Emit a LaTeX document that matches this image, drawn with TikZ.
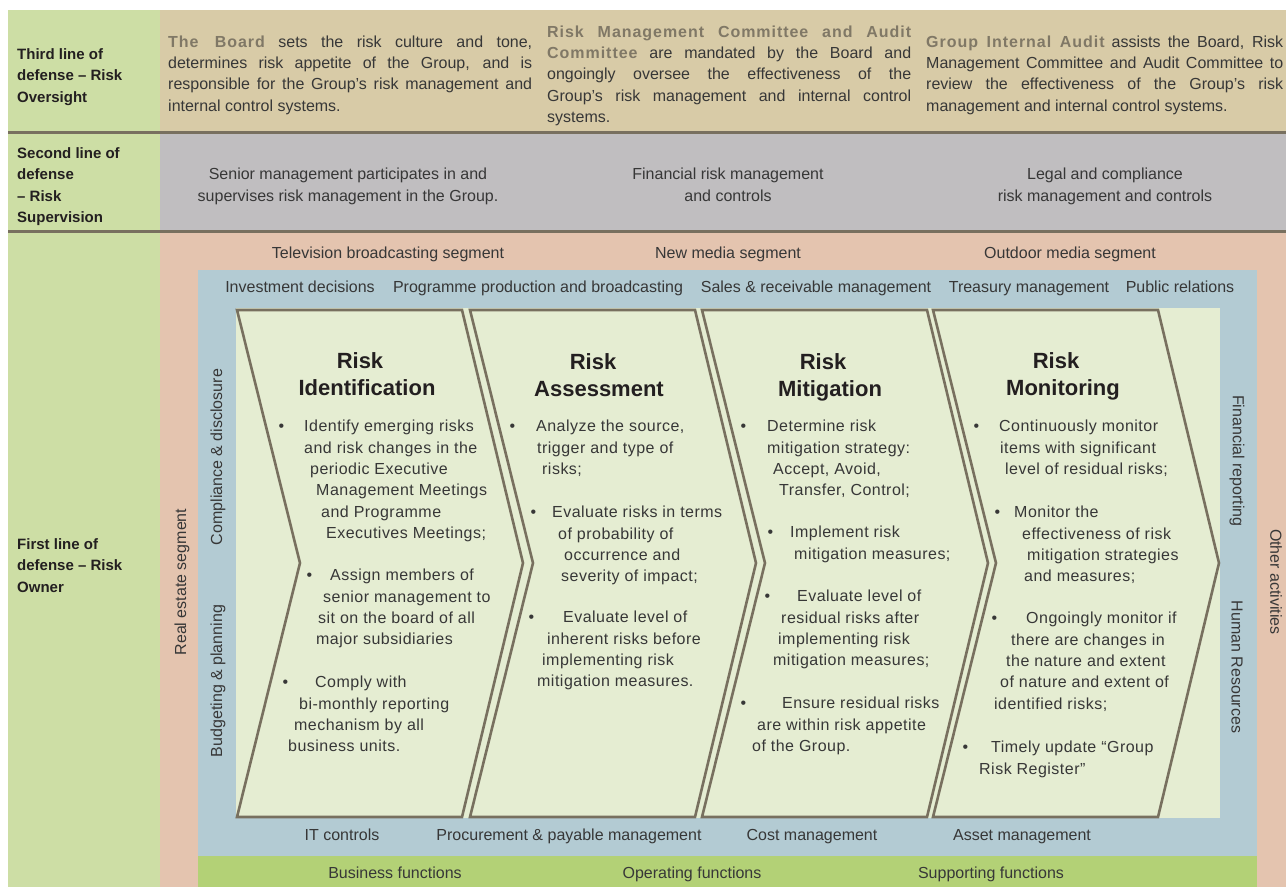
\documentclass[tikz,border=0pt]{standalone}
\usepackage{fontspec}
\setmainfont{Liberation Sans}
\newfontfamily\spaced[LetterSpace=3]{Liberation Sans}
\newfontfamily\leadfam[LetterSpace=6]{Liberation Sans}
\definecolor{leftgreen}{RGB}{205,222,165}
\definecolor{tanrow}{RGB}{216,203,167}
\definecolor{greyrow}{RGB}{192,190,192}
\definecolor{pinkseg}{RGB}{228,196,175}
\definecolor{bluefn}{RGB}{179,203,211}
\definecolor{palegreen}{RGB}{229,237,210}
\definecolor{bargreen}{RGB}{179,209,118}
\definecolor{olive}{RGB}{120,112,95}
\definecolor{leadc}{RGB}{128,120,102}
\definecolor{txt}{RGB}{55,55,55}
\definecolor{ink}{RGB}{35,31,32}
\newcommand\leadin[1]{\textcolor{leadc}{\leadfam\bfseries #1}}
\newcommand\bul[1]{\llap{\textbullet\hspace{#1pt}}}
\newcommand\indt[1]{\hspace*{#1pt}}
\begin{document}
\begin{tikzpicture}[x=1pt,y={(0pt,-1pt)},
      hdr/.style={anchor=north west,inner sep=0pt,align=left,text=ink,
        font=\fontsize{15}{21.5}\selectfont\bfseries,execute at begin node=\rule{0pt}{12pt}},
      para/.style={anchor=north west,inner sep=0pt,text width=364pt,align=justify,text=txt,
        font=\fontsize{16}{21.3}\selectfont,execute at begin node=\rule{0pt}{12pt}},
      mid/.style={anchor=north,inner sep=0pt,align=center,text=txt,
        font=\fontsize{16}{21.3}\selectfont,execute at begin node=\rule{0pt}{12pt}},
      lbl/.style={anchor=base,inner sep=0pt,text=txt,font=\fontsize{16}{19}\selectfont},
      vlbl/.style={inner sep=0pt,text=txt,font=\fontsize{16}{19}\selectfont},
      ttl/.style={anchor=north,inner sep=0pt,align=center,text=ink,
        font=\fontsize{22}{27}\selectfont\bfseries,execute at begin node=\rule{0pt}{17pt}},
      itm/.style={anchor=north west,inner sep=0pt,align=left,text=txt,
        font=\fontsize{16}{21.3}\selectfont\spaced,execute at begin node=\rule{0pt}{12pt}},
      chev/.style={draw=olive,fill=palegreen,line width=2.6pt},
      sep/.style={draw=olive,line width=3pt}]
  \useasboundingbox (0,0) rectangle (1286,887);
  \fill[leftgreen] (8,10) rectangle (160,887);
  \fill[tanrow] (160,10) rectangle (1286,132);
  \fill[greyrow] (160,132) rectangle (1286,231);
  \fill[pinkseg] (160,231) rectangle (1286,887);
  \fill[bluefn] (198,270) rectangle (1257,856);
  \fill[bargreen] (198,856) rectangle (1257,887);
  \fill[palegreen] (236,308) rectangle (1220,818);
  \draw[sep] (8,132) -- (1286,132);
  \draw[sep] (8,231) -- (1286,231);
  \draw[chev] (237,310) -- ++(225,0) -- ++(61,253) -- ++(-61,254) -- ++(-225,0) -- ++(63,-254) -- cycle;
  \draw[chev] (470,310) -- ++(225,0) -- ++(61,253) -- ++(-61,254) -- ++(-225,0) -- ++(63,-254) -- cycle;
  \draw[chev] (702,310) -- ++(225,0) -- ++(61,253) -- ++(-61,254) -- ++(-225,0) -- ++(63,-254) -- cycle;
  \draw[chev] (933,310) -- ++(225,0) -- ++(61,253) -- ++(-61,254) -- ++(-225,0) -- ++(63,-254) -- cycle;
  \node[hdr] (third) at (17,48) {Third line of\\defense – Risk\\Oversight};
  \node[hdr] (second) at (17,147) {Second line of\\defense\\– Risk\\Supervision};
  \node[hdr] (first) at (17,538) {First line of\\defense – Risk\\Owner};
  \node[para] (board) at (168,35) {\leadin{The Board} sets the risk culture and tone,\linebreak determines risk appetite of the Group, and is\linebreak responsible for the Group’s risk management and\linebreak internal control systems.};
  \node[para] (committee) at (547,25) {\leadin{Risk Management Committee and Audit\linebreak Committee} are mandated by the Board and\linebreak ongoingly oversee the effectiveness of the\linebreak Group’s risk management and internal control\linebreak systems.};
  \node[para,text width=357pt] (audit) at (926,35) {\leadin{Group Internal Audit} assists the Board, Risk\linebreak Management Committee and Audit Committee to\linebreak review the effectiveness of the Group’s risk\linebreak management and internal control systems.};
  \node[mid] (senior) at (348,168) {Senior management participates in and\\supervises risk management in the Group.};
  \node[mid] (financial) at (728,168) {Financial risk management\\and controls};
  \node[mid] (legal) at (1105,168) {Legal and compliance\\risk management and controls};
  \node[lbl] (tv) at (388,258) {Television broadcasting segment};
  \node[lbl] (newmedia) at (728,258) {New media segment};
  \node[lbl] (outdoor) at (1070,258) {Outdoor media segment};
  \node[lbl] (invest) at (300,292) {Investment decisions};
  \node[lbl] (prog) at (538,292) {Programme production and broadcasting};
  \node[lbl] (sales) at (816,292) {Sales \& receivable management};
  \node[lbl] (treasury) at (1029,292) {Treasury management};
  \node[lbl] (pr) at (1180,292) {Public relations};
  \node[lbl] (itc) at (342,840) {IT controls};
  \node[lbl] (procure) at (569,840) {Procurement \& payable management};
  \node[lbl] (cost) at (812,840) {Cost management};
  \node[lbl] (asset) at (1022,840) {Asset management};
  \node[lbl] (business) at (395,878) {Business functions};
  \node[lbl] (operating) at (692,878) {Operating functions};
  \node[lbl] (supporting) at (991,878) {Supporting functions};
  \node[vlbl,rotate=90] (realestate) at (182,582) {Real estate segment};
  \node[vlbl,rotate=90] (compliance) at (218,457) {Compliance \& disclosure};
  \node[vlbl,rotate=90] (budget) at (218,681) {Budgeting \& planning};
  \node[vlbl,rotate=-90] (freport) at (1237,461) {Financial reporting};
  \node[vlbl,rotate=-90] (hr) at (1237,667) {Human Resources};
  \node[vlbl,rotate=-90] (other) at (1276,582) {Other activities};
  \node[ttl] (tident) at (367,352) {Risk\indt{14}\\Identification};
  \node[ttl] (tassess) at (599,353) {Risk\indt{12}\\Assessment};
  \node[ttl] (tmitig) at (830,353) {Risk\indt{14}\\Mitigation};
  \node[ttl] (tmonit) at (1063,352) {Risk\indt{14}\\Monitoring};
  \node[itm] (ident1) at (304,420) {\bul{20}Identify emerging risks\\and risk changes in the\\\indt{6}periodic Executive\\\indt{12}Management Meetings\\\indt{17}and Programme\\\indt{22}Executives Meetings;};
  \node[itm] (ident2) at (316,569) {\indt{14}\bul{18}Assign members of\\\indt{7}senior management to\\\indt{2}sit on the board of all\\major subsidiaries};
  \node[itm] (ident3) at (288,676) {\indt{27}\bul{27}Comply with\\\indt{11}bi-monthly reporting\\\indt{6}mechanism by all\\business units.};
  \node[itm] (assess1) at (536,420) {\bul{21}Analyze the source,\\\indt{1}trigger and type of\\\indt{6}risks;};
  \node[itm] (assess2) at (552,506) {\bul{16}Evaluate risks in terms\\\indt{6}of probability of\\\indt{12}occurrence and\\\indt{9}severity of impact;};
  \node[itm] (assess3) at (537,611) {\indt{26}\bul{29}Evaluate level of\\\indt{10}inherent risks before\\\indt{5}implementing risk\\mitigation measures.};
  \node[itm] (mitig1) at (767,420) {\bul{21}Determine risk\\mitigation strategy:\\\indt{6}Accept, Avoid,\\\indt{12}Transfer, Control;};
  \node[itm] (mitig2) at (790,526) {\bul{17}Implement risk\\\indt{4}mitigation measures;};
  \node[itm] (mitig3) at (773,590) {\indt{24}\bul{27}Evaluate level of\\\indt{8}residual risks after\\\indt{5}implementing risk\\mitigation measures;};
  \node[itm] (mitig4) at (752,697) {\indt{30}\bul{36}Ensure residual risks\\\indt{5}are within risk appetite\\of the Group.};
  \node[itm] (monit1) at (999,420) {\bul{20}Continuously monitor\\\indt{1}items with significant\\\indt{6}level of residual risks;};
  \node[itm] (monit2) at (1014,506) {\bul{14}Monitor the\\\indt{8}effectiveness of risk\\\indt{13}mitigation strategies\\\indt{10}and measures;};
  \node[itm] (monit3) at (994,612) {\indt{32}\bul{29}Ongoingly monitor if\\\indt{17}there are changes in\\\indt{12}the nature and extent\\\indt{6}of nature and extent of\\identified risks;};
  \node[itm] (monit4) at (979,741) {\indt{12}\bul{23}Timely update “Group\\Risk Register”};
\end{tikzpicture}
\end{document}
